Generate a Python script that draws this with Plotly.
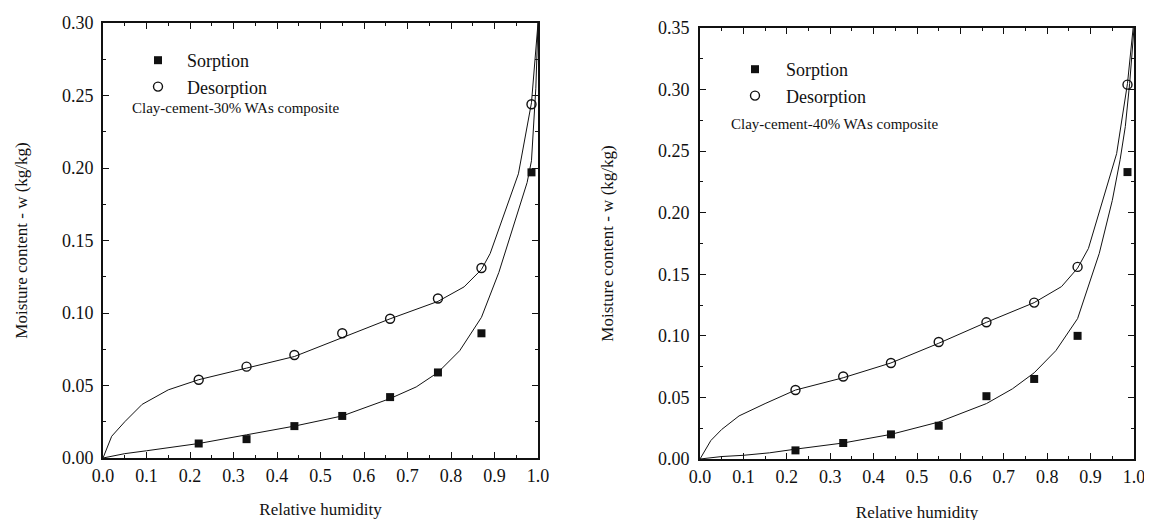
import plotly.graph_objects as go

# ---------------- data: Clay-cement-30% WAs composite ----------------
rh_pts = [0.22, 0.33, 0.44, 0.55, 0.66, 0.77, 0.87, 0.985]
sorp30 = [0.010, 0.013, 0.022, 0.029, 0.042, 0.059, 0.086, 0.197]
desorp30 = [0.054, 0.063, 0.071, 0.086, 0.096, 0.110, 0.131, 0.244]

# fitted curves
sorp30_fit_x = [0.0, 0.05, 0.10, 0.16, 0.22, 0.33, 0.44, 0.55, 0.66, 0.72, 0.77, 0.82, 0.87, 0.91, 0.95, 0.975, 0.985, 0.995, 1.0]
sorp30_fit_y = [0.0, 0.003, 0.005, 0.0075, 0.010, 0.016, 0.022, 0.029, 0.041, 0.049, 0.059, 0.074, 0.097, 0.128, 0.166, 0.190, 0.205, 0.255, 0.300]
desorp30_fit_x = [0.0, 0.02, 0.05, 0.09, 0.15, 0.22, 0.33, 0.44, 0.55, 0.66, 0.77, 0.83, 0.87, 0.89, 0.955, 0.985, 1.0]
desorp30_fit_y = [0.0, 0.015, 0.025, 0.037, 0.047, 0.054, 0.062, 0.070, 0.083, 0.096, 0.108, 0.118, 0.130, 0.141, 0.196, 0.245, 0.300]

# ---------------- data: Clay-cement-40% WAs composite ----------------
sorp40 = [0.007, 0.013, 0.020, 0.027, 0.051, 0.065, 0.100, 0.233]
desorp40 = [0.056, 0.067, 0.078, 0.095, 0.111, 0.127, 0.156, 0.304]

sorp40_fit_x = [0.0, 0.05, 0.10, 0.16, 0.22, 0.33, 0.44, 0.55, 0.66, 0.72, 0.77, 0.82, 0.87, 0.92, 0.95, 0.968, 0.98, 0.99, 1.0]
sorp40_fit_y = [0.0, 0.002, 0.003, 0.005, 0.008, 0.013, 0.020, 0.030, 0.045, 0.057, 0.070, 0.088, 0.114, 0.167, 0.210, 0.243, 0.270, 0.305, 0.350]
desorp40_fit_x = [0.0, 0.025, 0.05, 0.09, 0.15, 0.22, 0.33, 0.44, 0.55, 0.66, 0.77, 0.833, 0.87, 0.895, 0.96, 0.985, 0.998]
desorp40_fit_y = [0.0, 0.015, 0.024, 0.035, 0.045, 0.056, 0.066, 0.078, 0.094, 0.111, 0.127, 0.140, 0.155, 0.171, 0.248, 0.305, 0.350]

xticks = [0.0, 0.1, 0.2, 0.3, 0.4, 0.5, 0.6, 0.7, 0.8, 0.9, 1.0]
yticks30 = [0.00, 0.05, 0.10, 0.15, 0.20, 0.25, 0.30]
yticks40 = [0.00, 0.05, 0.10, 0.15, 0.20, 0.25, 0.30, 0.35]

FONT = "Liberation Serif"
BLACK = "#111111"

fig = go.Figure()

def add_panel(xa, ya, legend, sorp, desorp, sfx, sfy, dfx, dfy):
    fig.add_trace(go.Scatter(x=sfx, y=sfy, mode="lines", line=dict(color=BLACK, width=1),
                             xaxis=xa, yaxis=ya, showlegend=False, hoverinfo="skip"))
    fig.add_trace(go.Scatter(x=dfx, y=dfy, mode="lines", line=dict(color=BLACK, width=1),
                             xaxis=xa, yaxis=ya, showlegend=False, hoverinfo="skip"))
    fig.add_trace(go.Scatter(x=rh_pts, y=sorp, mode="markers", name="Sorption",
                             marker=dict(symbol="square", size=8, color=BLACK),
                             xaxis=xa, yaxis=ya, legend=legend, legendgroup=legend + "s"))
    fig.add_trace(go.Scatter(x=rh_pts, y=desorp, mode="markers", name="Desorption",
                             marker=dict(symbol="circle-open", size=9, color=BLACK, line=dict(width=1.4)),
                             xaxis=xa, yaxis=ya, legend=legend, legendgroup=legend + "d"))

add_panel("x", "y", "legend", sorp30, desorp30, sorp30_fit_x, sorp30_fit_y, desorp30_fit_x, desorp30_fit_y)
add_panel("x2", "y2", "legend2", sorp40, desorp40, sorp40_fit_x, sorp40_fit_y, desorp40_fit_x, desorp40_fit_y)

W, H = 1152, 520
OFF = 8  # page body margin


def px_x(p):
    return (p - OFF) / W


def px_y(p):
    return 1 - (p - OFF) / H


TICK_FONT = dict(family=FONT, size=18, color=BLACK)
TITLE_FONT = dict(family=FONT, size=17, color=BLACK)

axis_common = dict(
    showline=True, linecolor=BLACK, linewidth=1.6, mirror="allticks",
    ticks="inside", ticklen=6, tickwidth=1.3, tickcolor=BLACK,
    showgrid=False, zeroline=False,
    tickfont=TICK_FONT,
    automargin=False,
)

xaxis_common = dict(axis_common, range=[0, 1.0], tickvals=xticks, ticktext=[f"{v:.1f}" for v in xticks],
                    minor=dict(ticks="inside", ticklen=3, tickwidth=1.2, tickcolor=BLACK, dtick=0.05, tick0=0),
                    ticklabelstandoff=1)

ymin = dict(ticks="inside", ticklen=3, tickwidth=1.2, tickcolor=BLACK, dtick=0.025, tick0=0)

fig.update_layout(
    width=W, height=H,
    margin=dict(l=0, r=0, t=0, b=0),
    paper_bgcolor="white", plot_bgcolor="white",
    font=dict(family=FONT, size=15, color=BLACK),
    xaxis=dict(xaxis_common, domain=[px_x(103), px_x(538)], anchor="y",
               title=dict(text="Relative humidity", standoff=18, font=TITLE_FONT)),
    yaxis=dict(axis_common, domain=[px_y(458), px_y(23)], anchor="x", range=[0, 0.30],
               tickvals=yticks30, ticktext=[f"{v:.2f}" for v in yticks30],
               minor=ymin, ticklabelstandoff=4,
               title=dict(text="Moisture content - w (kg/kg)", standoff=30, font=TITLE_FONT)),
    xaxis2=dict(xaxis_common, domain=[px_x(700), px_x(1134)], anchor="y2",
                title=dict(text="Relative humidity", standoff=20, font=TITLE_FONT)),
    yaxis2=dict(axis_common, domain=[px_y(459), px_y(28)], anchor="x2", range=[0, 0.35],
                tickvals=yticks40, ticktext=[f"{v:.2f}" for v in yticks40],
                minor=ymin, ticklabelstandoff=5,
                title=dict(text="Moisture content - w (kg/kg)", standoff=40, font=TITLE_FONT)),
    legend=dict(x=px_x(129), y=px_y(42), xanchor="left", yanchor="top", bgcolor="rgba(0,0,0,0)",
                font=dict(family=FONT, size=18, color=BLACK), tracegroupgap=0, itemwidth=48),
    legend2=dict(x=px_x(724), y=px_y(51), xanchor="left", yanchor="top", bgcolor="rgba(0,0,0,0)",
                 font=dict(family=FONT, size=18, color=BLACK), tracegroupgap=0, itemwidth=52),
    annotations=[
        dict(text="Clay-cement-30% WAs composite", xref="paper", yref="paper",
             x=px_x(130), y=px_y(108), xanchor="left", yanchor="middle", showarrow=False,
             font=dict(family=FONT, size=15, color=BLACK)),
        dict(text="Clay-cement-40% WAs composite", xref="paper", yref="paper",
             x=px_x(729), y=px_y(124), xanchor="left", yanchor="middle", showarrow=False,
             font=dict(family=FONT, size=15, color=BLACK)),
    ],
)

fig.write_html("out.html")
